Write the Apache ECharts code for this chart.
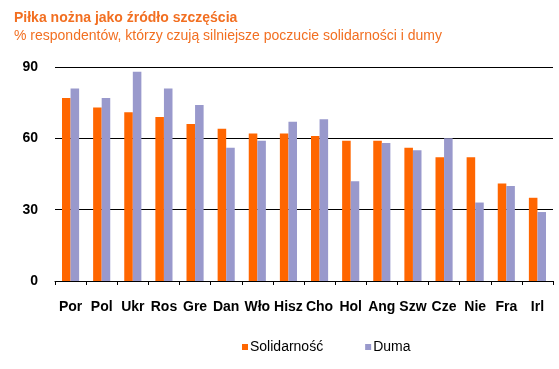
<!DOCTYPE html>
<html><head><meta charset="utf-8">
<script src="https://cdn.jsdelivr.net/npm/echarts@6/dist/echarts.min.js"></script>
<style>html,body{margin:0;padding:0;background:#fff}#c{width:559px;height:369px}</style>
</head><body><div id="c"></div>
<script>
const categories = ['Por','Pol','Ukr','Ros','Gre','Dan','Wło','Hisz','Cho','Hol','Ang','Szw','Cze','Nie','Fra','Irl'];
const solidarnosc = [77,73,71,69,66,64,62,62,61,59,59,56,52,52,41,35];
const duma = [81,77,88,81,74,56,59,67,68,42,58,55,60,33,40,29];
const yTicks = [0,30,60,90];
const chart = echarts.init(document.getElementById('c'));
const F = '"Liberation Sans", Arial, sans-serif';
chart.setOption({
  animation:false,
  title:[
    {text:'Piłka nożna jako źródło szczęścia', left:9, top:6, textStyle:{color:'#f26f21', fontFamily:F, fontSize:14, fontWeight:'bold'}},
    {text:'% respondentów, którzy czują silniejsze poczucie solidarności i dumy', left:9, top:24, textStyle:{color:'#f26f21', fontFamily:F, fontSize:14, fontWeight:'normal'}}
  ],
  legend:{top:335, left:237, itemWidth:6, itemHeight:6, itemGap:42, icon:'rect',
    textStyle:{fontFamily:F, fontSize:14, color:'#000', padding:[0,0,0,-3]}},
  grid:{left:55, right:6, top:67, bottom:88},
  xAxis:{type:'category', data:categories,
    axisLine:{lineStyle:{color:'#000', width:1}},
    axisTick:{show:true, length:4, lineStyle:{color:'#000'}},
    axisLabel:{fontFamily:F, fontSize:14, fontWeight:'bold', color:'#000', margin:19, interval:0}},
  yAxis:{type:'value', min:0, max:90, interval:30,
    axisLine:{show:false}, axisTick:{show:false},
    axisLabel:{fontFamily:F, fontSize:14, fontWeight:'bold', color:'#000', margin:17,
      formatter:v=>yTicks.includes(v)?String(v):''},
    splitLine:{lineStyle:{color:'#000', width:1}}},
  series:[
    {name:'Solidarność', type:'bar', data:solidarnosc, itemStyle:{color:'#ff6600'}, barGap:'0%', barCategoryGap:'45%'},
    {name:'Duma', type:'bar', data:duma, itemStyle:{color:'#9999cc'}, barGap:'0%', barCategoryGap:'45%'}
  ]
});
</script></body></html>
